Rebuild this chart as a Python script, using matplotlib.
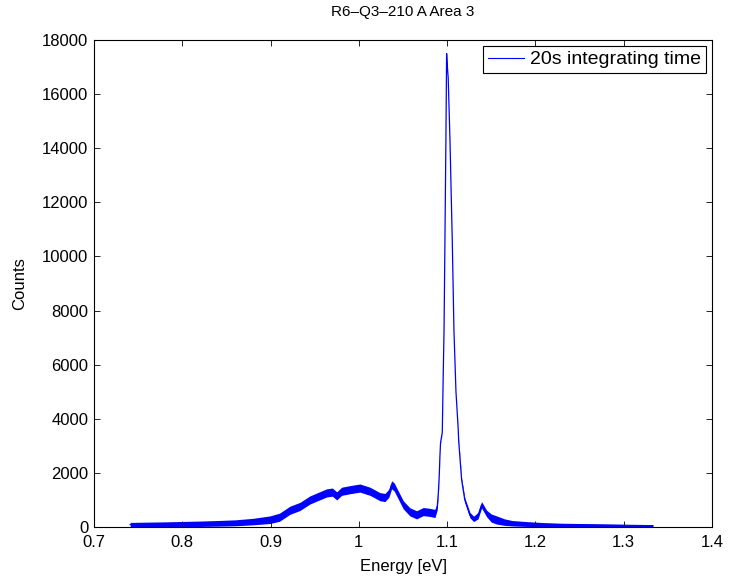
import matplotlib
matplotlib.use("Agg")
import matplotlib.pyplot as plt
import numpy as np

plt.rcParams['font.family'] = ['Liberation Sans', 'DejaVu Sans']

# Spectrum: energy [eV], counts (centre of the noisy band), half-spread of the band
energy = [0.741, 0.76, 0.78, 0.80, 0.82, 0.84, 0.86, 0.88, 0.8993, 0.910, 0.922,
          0.9333, 0.9446, 0.9540, 0.9635, 0.9700, 0.9749, 0.9805, 0.990, 1.0012,
          1.0126, 1.0239, 1.0296, 1.0340, 1.0371, 1.0400, 1.0428, 1.0503, 1.0578,
          1.0654, 1.0729, 1.0805, 1.0862, 1.0888, 1.0900, 1.0910, 1.0918, 1.0925,
          1.0932, 1.0945, 1.0955, 1.0965, 1.0975, 1.0986, 1.0994, 1.1003, 1.1012,
          1.1032, 1.1058, 1.1077, 1.1100, 1.1126, 1.1130, 1.1164, 1.1200, 1.1258,
          1.1300, 1.1350, 1.1390, 1.1447, 1.1500, 1.1560, 1.1650, 1.1735, 1.1900,
          1.2080, 1.2300, 1.2600, 1.2900, 1.3100, 1.3330]
counts = [90, 95, 100, 110, 120, 135, 155, 200, 270, 360, 620,
          760, 1000, 1130, 1260, 1290, 1150, 1320, 1380, 1440,
          1320, 1120, 1090, 1250, 1560, 1480, 1300, 820, 560,
          450, 570, 540, 500, 760, 1250, 1860, 2600, 3100,
          3250, 3500, 5500, 7300, 10600, 14300, 17500, 17000, 16600,
          14300, 10600, 7280, 5000, 3585, 3215, 1740, 1000, 440,
          300, 420, 820, 500, 330, 260, 180, 140, 110,
          90, 75, 65, 55, 50, 45]
spread = [80, 85, 90, 95, 100, 105, 110, 120, 140, 150, 150,
          150, 150, 150, 150, 150, 150, 150, 150, 150,
          150, 150, 150, 150, 150, 150, 150, 150, 150,
          150, 150, 150, 150, 120, 60, 30, 20, 20,
          20, 10, 0, 0, 0, 0, 0, 0, 0,
          0, 0, 0, 0, 20, 40, 60, 80, 100,
          100, 120, 120, 120, 150, 150, 120, 100, 90,
          75, 65, 60, 55, 50, 45]

xticks = [0.7, 0.8, 0.9, 1.0, 1.1, 1.2, 1.3, 1.4]
xticklabels = ['0.7', '0.8', '0.9', '1', '1.1', '1.2', '1.3', '1.4']
yticks = list(range(0, 18001, 2000))

e = np.array(energy)
c = np.array(counts)
s = np.array(spread)

fig = plt.figure(figsize=(7.31, 5.79), dpi=100)
ax = fig.add_axes([0.1286, 0.0898, 0.8454, 0.8411])

ax.fill_between(e, np.clip(c - s, 0, None), c + s, color='#0000ff', linewidth=0)
ax.plot(e, c, color='#0000ff', linewidth=0.9, label='20s integrating time')

ax.set_xlim(0.7, 1.4)
ax.set_ylim(0, 18000)
ax.set_xticks(xticks)
ax.set_xticklabels(xticklabels)
ax.set_yticks(yticks)
ax.tick_params(direction='in', top=True, right=True, length=4, width=0.6,
               labelsize=12, colors='black')
ax.tick_params(axis='x', pad=6)
ax.tick_params(axis='y', pad=4)
for sp in ax.spines.values():
    sp.set_linewidth(0.8)
    sp.set_color('black')

ax.set_xlabel('Energy [eV]', fontsize=12, labelpad=6)
ax.set_ylabel('Counts', fontsize=12, labelpad=11)
ax.set_title('R6\u2013Q3\u2013210 A Area 3', fontsize=11, pad=17)

leg = ax.legend(loc='upper right', fontsize=14, frameon=True, fancybox=False,
                edgecolor='black', framealpha=1, borderaxespad=0.3,
                handlelength=1.9, handletextpad=0.3, borderpad=0.25)
leg.get_frame().set_linewidth(0.8)
leg.get_lines()[0].set_linewidth(0.8)

fig.savefig('out.png', dpi=100)
